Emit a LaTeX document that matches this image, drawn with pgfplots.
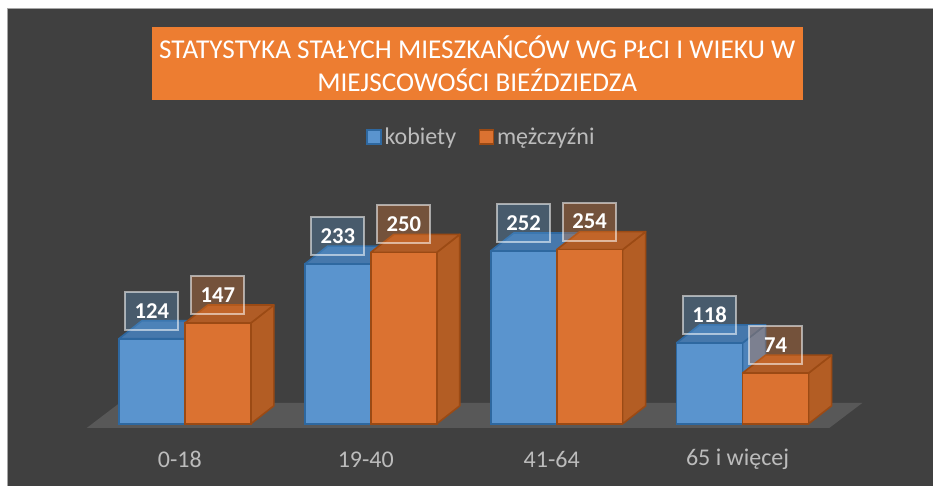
\documentclass[border=0pt]{standalone}
\usepackage{pgfplots}
\pgfplotsset{compat=1.18}
\usepackage{pgfplotstable}
\usepackage{fontspec}
\setmainfont{Carlito}
\definecolor{bg}{HTML}{404040}
\definecolor{floorc}{HTML}{585858}
\definecolor{ttl}{HTML}{ED7D31}
\definecolor{lgray}{HTML}{BCBCBC}
\definecolor{blfront}{HTML}{5A94CE}
\definecolor{blside}{HTML}{4C82BA}
\definecolor{bltop}{HTML}{4678AC}
\definecolor{bledge}{HTML}{2E68A0}
\definecolor{blbox}{HTML}{5B9BD5}
\definecolor{orfront}{HTML}{DB7231}
\definecolor{orside}{HTML}{B35D24}
\definecolor{ortop}{HTML}{B05C26}
\definecolor{oredge}{HTML}{9B4A14}
\definecolor{orbox}{HTML}{ED7D31}
\pgfplotstableread{
x k m
0 124 147
1 233 250
2 252 254
3 118 74
}\data
\def\dX{0.1237}
\def\dY{26.2}
\newcommand\boxfaces[4]{%
  \pgfmathsetmacro\xa{#1}\pgfmathsetmacro\xb{#2}%
  \pgfmathsetmacro\xbb{#2+\dX}\pgfmathsetmacro\xab{#1+\dX}%
  \pgfmathsetmacro\vt{#3+\dY}%
  \edef\tmp{\noexpand\filldraw[#4side,draw=#4edge,line width=1.2pt,line join=round] (axis cs:\xb,0) -- (axis cs:\xbb,\dY) -- (axis cs:\xbb,\vt) -- (axis cs:\xb,#3) -- cycle;
  \noexpand\filldraw[#4top,draw=#4edge,line width=1.2pt,line join=round] (axis cs:\xa,#3) -- (axis cs:\xb,#3) -- (axis cs:\xbb,\vt) -- (axis cs:\xab,\vt) -- cycle;}%
  \tmp
}
\begin{document}
\begin{tikzpicture}
\fill[white] (0,0) rectangle (699.75pt,364.5pt);
\begin{scope}[x=0.75pt,y=-0.75pt,yshift=364.5pt]
\fill[bg] (8,9) rectangle (933,486);
\draw[gray!70, line width=0.75pt] (8,486) -- (8,9) -- (933,9);
\fill[ttl] (152,27) rectangle (803,100);
\node[text=white, font=\fontsize{20.4}{24.75}\selectfont, align=center] at (477.5,63.5) {STATYSTYKA STAŁYCH MIESZKAŃCÓW WG PŁCI I WIEKU W\\MIEJSCOWOŚCI BIEŹDZIEDZA};
\fill[floorc] (87,428) -- (830,428) -- (863,403) -- (120,403) -- cycle;
\end{scope}
\begin{axis}[
  at={(69pt,46.5pt)}, anchor=south west,
  scale only axis, width=558pt, height=154.35pt,
  xmin=-0.5, xmax=3.5, ymin=0, ymax=300,
  clip=false,
  axis line style={draw=none},
  tick style={draw=none},
  ytick=\empty,
  xtick={0,1,2,3},
  xticklabels={0-18,19-40,41-64,65 i więcej},
  xticklabel style={text=lgray, font=\fontsize{18}{18}\selectfont, anchor=center, yshift=-27pt, xshift=-3.75pt},
  /pgf/number format/assume math mode=true,
  legend style={draw=none, fill=none, text=lgray, font=\fontsize{18}{18}\selectfont,
    legend columns=2, at={(0.5242,1.3946)}, anchor=center,
    /tikz/every even column/.append style={column sep=15pt}},
  legend image code/.code={\draw[#1] (0pt,-5.25pt) rectangle (10.5pt,5.25pt);},
  every node near coord/.append style={font=\bfseries\fontsize{17}{17}\selectfont, text=white,
    fill opacity=0.3, text opacity=1, draw=white, draw opacity=0.55, line width=1.5pt,
    minimum width=39.75pt, minimum height=28.5pt, inner sep=0pt, anchor=center, yshift=21pt},
]
\pgfplotsinvokeforeach{0,1,2,3}{%
  \pgfplotstablegetelem{#1}{k}\of\data
  \pgfmathsetmacro\val{\pgfplotsretval}%
  \boxfaces{#1-0.355}{#1}{\val}{bl}%
}
\addplot[ybar, bar width=0.355, bar shift=-0.1775, fill=blfront, draw=bledge, line width=1.2pt,
  nodes near coords, nodes near coords style={fill=blbox, xshift=-24.76pt}] table[x=x,y=k]{\data};
\addlegendentry{kobiety}
\pgfplotsinvokeforeach{0,1,2,3}{%
  \pgfplotstablegetelem{#1}{m}\of\data
  \pgfmathsetmacro\val{\pgfplotsretval}%
  \boxfaces{#1}{#1+0.355}{\val}{or}%
}
\addplot[ybar, bar width=0.355, bar shift=0.1775, fill=orfront, draw=oredge, line width=1.2pt,
  nodes near coords, nodes near coords style={fill=orbox, xshift=24.76pt}] table[x=x,y=m]{\data};
\addlegendentry{mężczyźni}
\end{axis}
\end{tikzpicture}
\end{document}
